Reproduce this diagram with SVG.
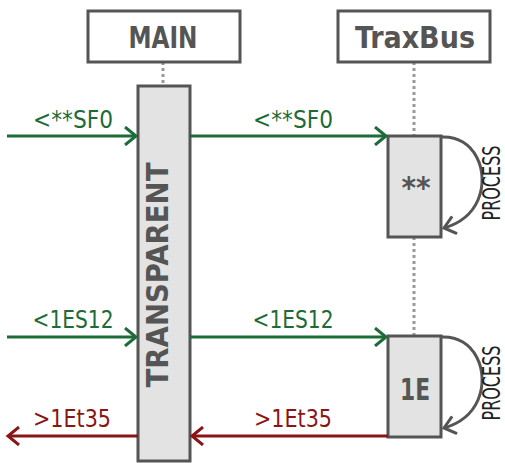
<svg xmlns="http://www.w3.org/2000/svg" width="505" height="463" viewBox="0 0 505 463">
<style>
.hdr{fill:#fff;stroke:#555;stroke-width:3}
.act{fill:#e3e3e3;stroke:#555;stroke-width:3}
.life{stroke:#999;stroke-width:3;stroke-dasharray:3 3;fill:none}
.ht{font-family:"DejaVu Sans Condensed","DejaVu Sans",sans-serif;font-weight:bold;fill:#555;font-size:31px}
.lbl{font-family:"DejaVu Sans Condensed","DejaVu Sans",sans-serif;font-size:25px}
.g{stroke:#1d6b38;stroke-width:3;fill:none}
.r{stroke:#8a1515;stroke-width:3;fill:none}
.loop{stroke:#555;stroke-width:3;fill:none}
</style>
<defs>
<marker id="ag" markerWidth="16" markerHeight="20" refX="13" refY="10" orient="auto" markerUnits="userSpaceOnUse"><path d="M2,1 L13,10 L2,19" fill="none" stroke="#1d6b38" stroke-width="3"/></marker>
<marker id="ar" markerWidth="16" markerHeight="20" refX="13" refY="10" orient="auto" markerUnits="userSpaceOnUse"><path d="M2,1 L13,10 L2,19" fill="none" stroke="#8a1515" stroke-width="3"/></marker>
<marker id="ak" markerWidth="16" markerHeight="20" refX="13" refY="10" orient="auto" markerUnits="userSpaceOnUse"><path d="M2,1 L13,10 L2,19" fill="none" stroke="#555" stroke-width="3"/></marker>
</defs>
<g id="lifelines">
<line class="life" x1="163" y1="62" x2="163" y2="86"/>
<line class="life" x1="414" y1="62" x2="414" y2="136"/>
<line class="life" x1="414" y1="237" x2="414" y2="336"/>
</g>
<g id="MAIN">
<rect class="hdr" x="88" y="11" width="152" height="51"/>
<text class="ht" x="163" y="48" text-anchor="middle" textLength="69" lengthAdjust="spacingAndGlyphs">MAIN</text>
</g>
<g id="TraxBus">
<rect class="hdr" x="338" y="11" width="152" height="51"/>
<text class="ht" x="415" y="48" text-anchor="middle" textLength="120" lengthAdjust="spacingAndGlyphs">TraxBus</text>
</g>
<g id="TRANSPARENT">
<rect class="act" x="138" y="86" width="52" height="375"/>
<text class="ht" transform="translate(168,275) rotate(-90)" text-anchor="middle" font-size="25" textLength="225" lengthAdjust="spacingAndGlyphs">TRANSPARENT</text>
</g>
<g id="act1">
<rect class="act" x="388" y="136" width="53" height="101"/>
<text class="ht" x="416" y="198" text-anchor="middle" font-size="28">**</text>
</g>
<g id="act2">
<rect class="act" x="388" y="336" width="53" height="101"/>
<text class="ht" x="415" y="400" text-anchor="middle" font-size="28" textLength="30" lengthAdjust="spacingAndGlyphs">1E</text>
</g>
<g id="connectors">
<line class="g" x1="7" y1="136" x2="136" y2="136" marker-end="url(#ag)"/>
<line class="g" x1="190" y1="136" x2="386" y2="136" marker-end="url(#ag)"/>
<line class="g" x1="7" y1="337" x2="136" y2="337" marker-end="url(#ag)"/>
<line class="g" x1="190" y1="337" x2="386" y2="337" marker-end="url(#ag)"/>
<line class="r" x1="388" y1="436" x2="192" y2="436" marker-end="url(#ar)"/>
<line class="r" x1="138" y1="436" x2="8" y2="436" marker-end="url(#ar)"/>
<path class="loop" d="M441,137 C475,135 490,172 478,200 C471,216 458,224 444,228" marker-end="url(#ak)"/>
<path class="loop" d="M441,337 C475,335 490,372 478,400 C471,416 458,424 444,428" marker-end="url(#ak)"/>
</g>
<g id="labels">
<text class="lbl" x="73" y="128" fill="#1d6b38" text-anchor="middle" textLength="80" lengthAdjust="spacingAndGlyphs">&lt;**SF0</text>
<text class="lbl" x="293" y="128" fill="#1d6b38" text-anchor="middle" textLength="80" lengthAdjust="spacingAndGlyphs">&lt;**SF0</text>
<text class="lbl" x="73" y="328" fill="#1d6b38" text-anchor="middle" textLength="81" lengthAdjust="spacingAndGlyphs">&lt;1ES12</text>
<text class="lbl" x="293" y="328" fill="#1d6b38" text-anchor="middle" textLength="81" lengthAdjust="spacingAndGlyphs">&lt;1ES12</text>
<text class="lbl" x="72" y="427" fill="#8a1515" text-anchor="middle" textLength="78" lengthAdjust="spacingAndGlyphs">&gt;1Et35</text>
<text class="lbl" x="293" y="427" fill="#8a1515" text-anchor="middle" textLength="78" lengthAdjust="spacingAndGlyphs">&gt;1Et35</text>
<text class="lbl" transform="translate(500,183) rotate(-90)" fill="#222" font-size="19" text-anchor="middle" textLength="75" lengthAdjust="spacingAndGlyphs">PROCESS</text>
<text class="lbl" transform="translate(500,383) rotate(-90)" fill="#222" font-size="19" text-anchor="middle" textLength="75" lengthAdjust="spacingAndGlyphs">PROCESS</text>
</g>
</svg>
